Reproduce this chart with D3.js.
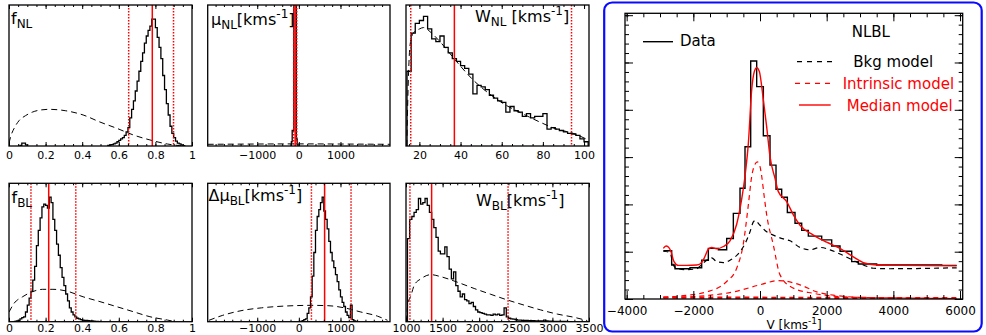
<!DOCTYPE html>
<html><head><meta charset="utf-8">
<script src="https://cdn.jsdelivr.net/npm/d3@7"></script>
<style>body{margin:0;background:#fff} svg{display:block} text{font-family:"DejaVu Sans",sans-serif}</style>
</head><body>
<svg id="c" width="986" height="335"></svg>
<script>
// ---------------- DATA ----------------
// f_NL posterior histogram
const fNLWidth = 0.01;
const fNLBumpStart = 0.06;
const fNLBump = [0.005, 0.02, 0.02, 0.008];
const fNLStart = 0.54;
const fNLCounts = [0.005,0.008,0.01,0.015,0.02,0.03,0.04,0.05,0.06,0.075,0.10,0.13,0.20,0.26,0.32,0.39,0.46,0.53,0.60,0.66,0.73,0.78,0.82,0.85,0.90,0.90,0.84,0.77,0.70,0.62,0.50,0.40,0.30,0.22,0.14,0.09,0.06,0.035,0.02,0.015,0.008,0.003];
const fNLPriorX = [0,0.01,0.03,0.055,0.09,0.127,0.17,0.22,0.31,0.405,0.497,0.59,0.68,0.77,0.866,0.93,0.96];
const fNLPriorY = [0.02,0.07,0.13,0.18,0.215,0.24,0.255,0.26,0.25,0.22,0.17,0.125,0.078,0.043,0.014,0.003,0];
const fNLLines = [0.654, 0.783, 0.899];

// mu_NL
const muNLStart = -180, muNLWidth = 20;
const muNLCounts = [0.03,0.11,0.11,1.6,1.6,1.6,0.05,0.01];
const muNLPriorX = [-2190,-1000,0,1000,2190];
const muNLPriorY = [0.012,0.014,0.015,0.014,0.012];
const muNLLines = [-125, -88, -50];

// W_NL
const wNLStart = 14, wNLWidth = 2;
const wNLCounts = [0.53,0.80,0.87,0.89,0.92,0.83,0.76,0.74,0.78,0.70,0.66,0.62,0.60,0.57,0.55,0.51,0.37,0.43,0.42,0.40,0.36,0.34,0.32,0.31,0.24,0.28,0.25,0.24,0.21,0.23,0.20,0.21,0.21,0.23,0.12,0.13,0.12,0.11,0.10,0.09,0.085,0.075,0.05,0.03];
const wNLPriorX = [13.9,14.5,15.5,17,20,22,26,30,38,46,54,62,70,78.5,86.6,94.7,101];
const wNLPriorY = [0,0.4,0.72,0.80,0.83,0.84,0.80,0.74,0.60,0.47,0.37,0.29,0.23,0.17,0.12,0.09,0.05];
const wNLLines = [15.8, 37.0, 93.9];

// f_BL
const fBLStart = 0.03, fBLWidth = 0.01;
const fBLCounts = [0.003,0.005,0.01,0.02,0.03,0.035,0.07,0.12,0.17,0.22,0.30,0.40,0.55,0.66,0.75,0.83,0.85,0.84,0.82,0.90,0.86,0.74,0.66,0.56,0.48,0.39,0.32,0.26,0.20,0.15,0.10,0.07,0.05,0.035,0.025,0.02,0.015,0.012,0.01,0.01,0.008,0.006,0.005,0.004,0.003,0.002,0.001];
const fBLPriorX = [0,0.028,0.074,0.129,0.184,0.24,0.313,0.405,0.497,0.59,0.68,0.77,0.865,0.91];
const fBLPriorY = [0.07,0.133,0.18,0.217,0.234,0.234,0.222,0.18,0.145,0.108,0.072,0.036,0.012,0.0];
const fBLLines = [0.12, 0.217, 0.365];

// Delta mu_BL
const dmuStart = 40, dmuWidth = 40;
const dmuCounts = [0.003,0.008,0.015,0.02,0.06,0.10,0.18,0.33,0.50,0.66,0.76,0.81,0.86,0.90,0.80,0.74,0.67,0.58,0.50,0.44,0.39,0.34,0.29,0.23,0.18,0.14,0.11,0.07,0.045,0.03,0.12,0.015,0.005,0.003];
const dmuPriorX = [-2160,-1840,-1290,-900,-100,300,690,1095,1490,1890,2130];
const dmuPriorY = [0.01,0.045,0.085,0.10,0.116,0.118,0.116,0.10,0.07,0.04,0.01];
const dmuLines = [302, 619, 1254];

// W_BL
const wBLStart = 1020, wBLWidth = 30;
const wBLCounts = [0.60,0.74,0.76,0.79,0.81,0.89,0.85,0.86,0.89,0.84,0.79,0.74,0.68,0.61,0.51,0.49,0.49,0.54,0.47,0.38,0.31,0.36,0.26,0.22,0.18,0.20,0.16,0.15,0.13,0.14,0.11,0.085,0.07,0.065,0.06,0.055,0.05,0.05,0.045,0.055,0.05,0.055,0.045,0.05,0.10,0.035,0.025,0.02,0.018,0.015,0.012,0.012,0.01,0.01,0.009,0.008,0.007,0.007,0.006,0.006,0.005,0.006,0.012,0.005,0.004,0.004,0.003,0.003,0.003,0.002,0.002,0.002,0.002,0.001,0.001];
const wBLPriorX = [1008,1023,1068,1114,1204,1340,1477,1704,1931,2158,2385,2612,2840,3067,3294,3476];
const wBLPriorY = [0,0.12,0.19,0.265,0.31,0.34,0.325,0.285,0.24,0.198,0.157,0.12,0.085,0.055,0.032,0.008];
const wBLLines = [1054, 1350, 2394];

// tick labels
const fTicks = [0, 0.2, 0.4, 0.6, 0.8, 1];
const fTickLabels = ["0", "0.2", "0.4", "0.6", "0.8", "1"];
const muTicks = [-1000, 0, 1000];
const muTickLabels = ["\u22121000", "0", "1000"];
const wNLTicks = [20, 40, 60, 80, 100];
const wNLTickLabels = ["20", "40", "60", "80", "100"];
const wBLTicks = [1000, 1500, 2000, 2500, 3000, 3500];
const wBLTickLabels = ["1000", "1500", "2000", "2500", "3000", "3500"];
const vTicks = [-4000, -2000, 0, 2000, 4000, 6000];
const vTickLabels = ["\u22124000", "\u22122000", "0", "2000", "4000", "6000"];

// Right panel spectrum
const specEdges = [-2900,-2650,-2550,-2100,-1750,-1550,-1250,-1000,-800,-600,-450,-280,-100,100,300,480,650,820,1050,1250,1450,1850,2150,2400,2750,2950,3500,5450,5900];
const specData = [1.02,0.72,0.64,0.66,0.82,1.07,1.04,1.28,1.81,2.34,3.22,5.03,4.49,3.45,2.83,2.32,2.15,1.83,1.60,1.45,1.33,1.25,1.12,1.01,0.79,0.74,0.72,0.71];
const medianV = [-2900,-2820,-2750,-2680,-2580,-2450,-2200,-1900,-1800,-1700,-1550,-1450,-1300,-1100,-900,-700,-550,-450,-350,-250,-170,-100,-20,100,200,300,450,550,800,1000,1200,1600,2000,2400,2800,3100,3500,4200,5900];
const medianF = [1.07,1.12,1.10,1.02,0.79,0.71,0.71,0.72,0.74,0.83,1.05,1.09,1.06,1.11,1.23,1.58,2.11,2.6,3.29,4.42,4.81,4.89,4.81,4.21,3.64,3.01,2.55,2.27,2.06,1.78,1.56,1.35,1.20,1.07,0.89,0.77,0.72,0.71,0.70];
const bkgV = [-2900,-2700,-2600,-2500,-2200,-1900,-1750,-1600,-1450,-1300,-1100,-900,-600,-450,-300,-200,-150,0,200,400,700,900,1200,1500,1800,2100,2400,2700,3100,3400,3900,5900];
const bkgF = [1.01,0.98,0.72,0.65,0.62,0.64,0.73,0.82,0.87,0.79,0.77,0.82,1.00,1.17,1.42,1.63,1.66,1.56,1.42,1.35,1.27,1.23,1.09,1.04,1.09,1.04,0.95,0.85,0.72,0.65,0.64,0.66];
const narrowV = [-2900,-2300,-1600,-1000,-700,-500,-350,-250,-150,-80,0,50,120,200,400,600,1000,1600,2200,3000,4000,5900];
const narrowF = [0.04,0.07,0.15,0.37,0.65,1.17,1.99,2.59,2.85,2.9,2.8,2.6,2.2,1.78,1.14,0.51,0.23,0.12,0.06,0.03,0.02,0.01];
const broadV = [-2900,-1800,-800,0,550,1200,1700,2200,3200,4500,5900];
const broadF = [0.03,0.06,0.15,0.30,0.39,0.30,0.15,0.08,0.03,0.02,0.01];
const flatV = [-2900,0,5900];
const flatF = [0.03,0.025,0.015];

// ---------------- DRAW ----------------
const svg = d3.select('#c');
const FONT = 'DejaVu Sans';

function histPts(start, width, vals) {
  const pts = [[start, 0]];
  vals.forEach((v, i) => { pts.push([start + i * width, v]); pts.push([start + (i + 1) * width, v]); });
  pts.push([start + vals.length * width, 0]);
  return pts;
}

function addTitle(g, x, y, parts) {
  const t = g.append('text').attr('x', x).attr('y', y).attr('font-family', FONT).attr('fill', '#000');
  let shift = 0;
  parts.forEach(([s, k]) => {
    const target = k === 'sub' ? 4 : (k === 'sup' ? -7 : 0);
    t.append('tspan').attr('dy', target - shift).attr('font-size', k === 'm' ? 16 : 12).text(s);
    shift = target;
  });
}

const panels = [
  {box:[9,5,192,146], dom:[0,1], ticks:fTicks, labels:fTickLabels, minor:0.05, pad:5,
   hists:[[fNLBumpStart,fNLWidth,fNLBump],[fNLStart,fNLWidth,fNLCounts]], prior:[fNLPriorX,fNLPriorY], lines:fNLLines,
   title:[11,24,[["f",'m'],["NL",'sub']]]},
  {box:[207.7,5,390,146], dom:[-2190,2190], ticks:muTicks, labels:muTickLabels, minor:200, pad:5,
   hists:[[muNLStart,muNLWidth,muNLCounts]], prior:[muNLPriorX,muNLPriorY], lines:muNLLines,
   title:[211,25,[["\u03bc",'m'],["NL",'sub'],["[kms",'m'],["-1",'sup'],["]",'m']]]},
  {box:[406,5,589,146], dom:[13.5,102.4], ticks:wNLTicks, labels:wNLTickLabels, minor:5, pad:5,
   hists:[[wNLStart,wNLWidth,wNLCounts]], prior:[wNLPriorX,wNLPriorY], lines:wNLLines,
   title:[475,22,[["W",'m'],["NL",'sub'],[" [kms",'m'],["-1",'sup'],["]",'m']]]},
  {box:[9,183.3,192,321.7], dom:[0,1], ticks:fTicks, labels:fTickLabels, minor:0.05, pad:2.5,
   hists:[[fBLStart,fBLWidth,fBLCounts]], prior:[fBLPriorX,fBLPriorY], lines:fBLLines,
   title:[11.5,203,[["f",'m'],["BL",'sub']]]},
  {box:[207.7,183.3,390,321.7], dom:[-2190,2190], ticks:muTicks, labels:muTickLabels, minor:200, pad:2.5,
   hists:[[dmuStart,dmuWidth,dmuCounts]], prior:[dmuPriorX,dmuPriorY], lines:dmuLines,
   title:[208.5,201,[["\u0394\u03bc",'m'],["BL",'sub'],["[kms",'m'],["-1",'sup'],["]",'m']]]},
  {box:[406,183.3,589,321.7], dom:[1000,3500], ticks:wBLTicks, labels:wBLTickLabels, minor:100, pad:2.5,
   hists:[[wBLStart,wBLWidth,wBLCounts]], prior:[wBLPriorX,wBLPriorY], lines:wBLLines,
   title:[476,206,[["W",'m'],["BL",'sub'],["[kms",'m'],["-1",'sup'],["]",'m']]]}
];

panels.forEach((p, pi) => {
  const [x0, y0, x1, y1] = p.box;
  const x = d3.scaleLinear().domain(p.dom).range([x0, x1]);
  const y = d3.scaleLinear().domain([0, 1]).range([y1, y0]);
  const g = svg.append('g');
  const cid = 'clip' + pi;
  svg.append('clipPath').attr('id', cid).append('rect').attr('x', x0).attr('y', y0).attr('width', x1 - x0).attr('height', y1 - y0);
  const inner = g.append('g').attr('clip-path', `url(#${cid})`);
  const line = d3.line().x(d => x(d[0])).y(d => y(d[1]));
  p.hists.forEach(h => {
    inner.append('path').attr('d', line(histPts(h[0], h[1], h[2]))).attr('fill', 'none').attr('stroke', '#000').attr('stroke-width', 1.3);
  });
  const pl = d3.line().x(d => x(d[0])).y(d => y(d[1])).curve(d3.curveMonotoneX);
  inner.append('path').attr('d', pl(p.prior[0].map((v, i) => [v, p.prior[1][i]])))
    .attr('fill', 'none').attr('stroke', '#000').attr('stroke-width', 1).attr('stroke-dasharray', '6,4');
  p.lines.forEach((v, i) => {
    inner.append('line').attr('x1', x(v)).attr('x2', x(v)).attr('y1', y0).attr('y2', y1)
      .attr('stroke', '#ff0000').attr('stroke-width', 1.5)
      .attr('stroke-dasharray', i === 1 ? null : '1.5,1.5');
  });
  // axes
  const lab = new Map(p.ticks.map((t, i) => [t, p.labels[i]]));
  const minorVals = d3.range(Math.ceil(p.dom[0] / p.minor) * p.minor, p.dom[1] + 1e-9, p.minor);
  const gb = g.append('g').attr('transform', `translate(0,${y1})`)
    .call(d3.axisBottom(x).tickValues(p.ticks).tickFormat(d => lab.get(d)).tickSizeInner(-4).tickSizeOuter(0).tickPadding(p.pad));
  gb.select('.domain').remove();
  gb.selectAll('text').attr('font-size', 11).attr('font-family', FONT).attr('fill', '#000');
  const gbm = g.append('g').attr('transform', `translate(0,${y1})`)
    .call(d3.axisBottom(x).tickValues(minorVals).tickFormat('').tickSizeInner(-2).tickSizeOuter(0));
  gbm.select('.domain').remove();
  const gt = g.append('g').attr('transform', `translate(0,${y0})`)
    .call(d3.axisTop(x).tickValues(p.ticks).tickFormat('').tickSizeInner(-4).tickSizeOuter(0));
  gt.select('.domain').remove();
  const gtm = g.append('g').attr('transform', `translate(0,${y0})`)
    .call(d3.axisTop(x).tickValues(minorVals).tickFormat('').tickSizeInner(-2).tickSizeOuter(0));
  gtm.select('.domain').remove();
  g.append('rect').attr('x', x0).attr('y', y0).attr('width', x1 - x0).attr('height', y1 - y0)
    .attr('fill', 'none').attr('stroke', '#000').attr('stroke-width', 1.3);
  addTitle(g, p.title[0], p.title[1], p.title[2]);
});

// ---------- Right panel ----------
svg.append('rect').attr('x', 604.2).attr('y', 2.5).attr('width', 377.5).attr('height', 329).attr('rx', 8)
  .attr('fill', 'none').attr('stroke', '#0a0aff').attr('stroke-width', 2.2);

const RX0 = 625, RX1 = 962.7, RY0 = 13.3, RY1 = 299;
const vx = d3.scaleLinear().domain([-4050, 6080]).range([RX0, RX1]);
const fy = d3.scaleLinear().domain([0, 6.04]).range([RY1, RY0]);
const rg = svg.append('g');
svg.append('clipPath').attr('id', 'clipR').append('rect').attr('x', RX0).attr('y', RY0).attr('width', RX1 - RX0).attr('height', RY1 - RY0);
const ri = rg.append('g').attr('clip-path', 'url(#clipR)');
const smooth = d3.line().x(d => vx(d[0])).y(d => fy(d[1])).curve(d3.curveMonotoneX);
const zip = (a, b) => a.map((v, i) => [v, b[i]]);

// intrinsic components
ri.append('path').attr('d', smooth(zip(flatV, flatF))).attr('fill', 'none').attr('stroke', '#ff0000').attr('stroke-width', 2.4).attr('stroke-dasharray', '5,4');
ri.append('path').attr('d', smooth(zip(broadV, broadF))).attr('fill', 'none').attr('stroke', '#ff0000').attr('stroke-width', 1.2).attr('stroke-dasharray', '5,4');
ri.append('path').attr('d', smooth(zip(narrowV, narrowF))).attr('fill', 'none').attr('stroke', '#ff0000').attr('stroke-width', 1.2).attr('stroke-dasharray', '5,4');
// bkg
ri.append('path').attr('d', smooth(zip(bkgV, bkgF))).attr('fill', 'none').attr('stroke', '#000').attr('stroke-width', 1.2).attr('stroke-dasharray', '5,4');
// data step
const stepPts = specData.map((v, i) => [specEdges[i], v]);
stepPts.push([specEdges[specEdges.length - 1], specData[specData.length - 1]]);
ri.append('path').attr('d', d3.line().x(d => vx(d[0])).y(d => fy(d[1])).curve(d3.curveStepAfter)(stepPts))
  .attr('fill', 'none').attr('stroke', '#000').attr('stroke-width', 1.4);
// median
ri.append('path').attr('d', smooth(zip(medianV, medianF))).attr('fill', 'none').attr('stroke', '#ff0000').attr('stroke-width', 1.4);

// right panel axes
const vMinor = d3.range(-4000, 6001, 500);
const yMajor = d3.range(0, 6.01, 1);
const yMinor = d3.range(0, 6.01, 0.2);
function clean(sel) { sel.select('.domain').remove(); sel.selectAll('line').attr('stroke-width', 1); return sel; }
const rb = clean(rg.append('g').attr('transform', `translate(0,${RY1})`)
  .call(d3.axisBottom(vx).tickValues(vTicks).tickFormat((d) => vTickLabels[vTicks.indexOf(d)]).tickSizeInner(-8).tickSizeOuter(0).tickPadding(7)));
rb.selectAll('text').attr('font-size', 12).attr('font-family', FONT).attr('fill', '#000');
clean(rg.append('g').attr('transform', `translate(0,${RY1})`).call(d3.axisBottom(vx).tickValues(vMinor).tickFormat('').tickSizeInner(-4).tickSizeOuter(0)));
clean(rg.append('g').attr('transform', `translate(0,${RY0})`).call(d3.axisTop(vx).tickValues(vTicks).tickFormat('').tickSizeInner(-8).tickSizeOuter(0)));
clean(rg.append('g').attr('transform', `translate(0,${RY0})`).call(d3.axisTop(vx).tickValues(vMinor).tickFormat('').tickSizeInner(-4).tickSizeOuter(0)));
clean(rg.append('g').attr('transform', `translate(${RX0},0)`).call(d3.axisLeft(fy).tickValues(yMajor).tickFormat('').tickSizeInner(-8).tickSizeOuter(0)));
clean(rg.append('g').attr('transform', `translate(${RX0},0)`).call(d3.axisLeft(fy).tickValues(yMinor).tickFormat('').tickSizeInner(-4).tickSizeOuter(0)));
clean(rg.append('g').attr('transform', `translate(${RX1},0)`).call(d3.axisRight(fy).tickValues(yMajor).tickFormat('').tickSizeInner(-8).tickSizeOuter(0)));
clean(rg.append('g').attr('transform', `translate(${RX1},0)`).call(d3.axisRight(fy).tickValues(yMinor).tickFormat('').tickSizeInner(-4).tickSizeOuter(0)));
rg.append('rect').attr('x', RX0).attr('y', RY0).attr('width', RX1 - RX0).attr('height', RY1 - RY0)
  .attr('fill', 'none').attr('stroke', '#000').attr('stroke-width', 1.3);

// axis title
const at = rg.append('text').attr('x', 766.5).attr('y', 329).attr('font-family', FONT).attr('font-size', 12).attr('fill', '#000');
at.append('tspan').text('V [kms');
at.append('tspan').attr('dy', -5).attr('font-size', 9).text('-1');
at.append('tspan').attr('dy', 5).text(']');

// legend
const lg = rg.append('g').attr('font-family', FONT).attr('font-size', 15);
lg.append('line').attr('x1', 643).attr('x2', 673).attr('y1', 41.7).attr('y2', 41.7).attr('stroke', '#000').attr('stroke-width', 1.4);
lg.append('text').attr('x', 680).attr('y', 46).attr('fill', '#000').text('Data');
lg.append('text').attr('x', 851.7).attr('y', 36.7).attr('fill', '#000').text('NLBL');
lg.append('line').attr('x1', 797).attr('x2', 833).attr('y1', 61.7).attr('y2', 61.7).attr('stroke', '#000').attr('stroke-width', 1.2).attr('stroke-dasharray', '5,5');
lg.append('text').attr('x', 853.3).attr('y', 67).attr('fill', '#000').text('Bkg model');
lg.append('line').attr('x1', 795).attr('x2', 832).attr('y1', 83.3).attr('y2', 83.3).attr('stroke', '#ff0000').attr('stroke-width', 1.2).attr('stroke-dasharray', '5,5');
lg.append('text').attr('x', 842.7).attr('y', 89).attr('fill', '#ff0000').text('Intrinsic model');
lg.append('line').attr('x1', 799).attr('x2', 830.7).attr('y1', 105).attr('y2', 105).attr('stroke', '#ff0000').attr('stroke-width', 1.4);
lg.append('text').attr('x', 846.7).attr('y', 110.7).attr('fill', '#ff0000').text('Median model');
</script>
</body></html>
